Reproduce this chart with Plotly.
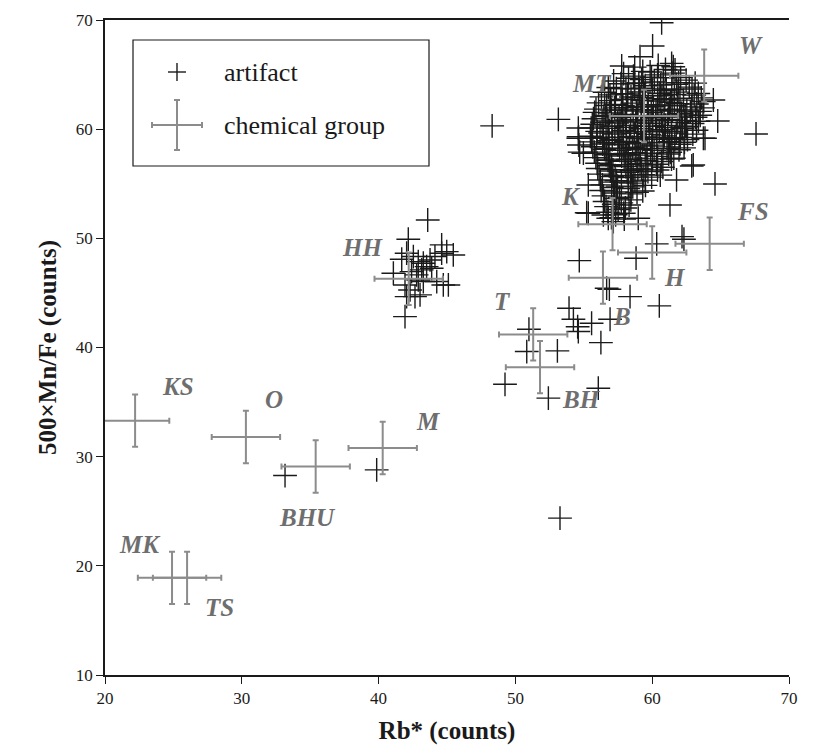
import plotly.graph_objects as go

# ---- chemical groups: centroid and 1-sigma spread ----
group_names = ["KS", "O", "BHU", "M", "MK", "TS", "HH", "T", "BH", "B", "H", "FS", "K", "MT", "W"]
group_rb = [22.2, 30.3, 35.4, 40.3, 24.9, 26.0, 42.2, 51.3, 51.8, 56.4, 60.0, 64.2, 57.1, 59.4, 63.8]
group_mnfe = [33.3, 31.8, 29.1, 30.8, 18.9, 18.9, 46.3, 41.2, 38.2, 46.4, 48.7, 49.5, 51.3, 61.2, 64.9]
group_rb_err = [2.5] * 15
group_mnfe_err = [2.4] * 15

# ---- individual artifacts ----
artifact_rb = [
    # isolated / low
    41.93, 50.99, 50.83, 53.07, 49.24, 52.41, 56.06, 53.26, 53.92, 54.24, 54.55, 54.60,
    55.57, 56.92, 56.25, 56.67, 56.87, 58.38, 60.52, 54.67, 58.82, 60.33, 62.18, 62.32,
    39.86, 33.16,
    # upper outliers
    60.69, 60.03, 59.11, 57.77, 53.14, 48.30, 54.60, 54.62, 54.64, 54.70, 64.79, 67.59,
    64.59, 62.89, 63.86, 64.47, 61.42, 61.54, 61.67,
    # HH cluster
    43.59, 42.17, 42.05, 41.69, 42.54, 42.90, 43.27, 43.76, 44.12, 44.61, 44.98, 45.46,
    44.61, 41.08, 42.41, 42.78, 43.15, 43.51, 43.88, 44.25, 44.73, 45.10, 41.93, 42.30,
    42.66, 43.03, 42.05, 42.90, 43.27,
    # main cluster edge
    55.21, 56.43, 56.79, 57.16, 58.98, 61.30, 61.78, 63.00, 63.74, 55.33, 55.33, 54.60, 54.97,
    # main cluster
    58.72, 59.31, 60.44, 60.97,
    57.91, 58.63, 59.85, 60.39, 61.52, 62.08,
    57.18, 58.27, 58.71, 59.23, 60.16, 60.81, 61.93, 62.48,
    56.79, 57.71, 58.08, 59.02, 59.49, 60.62, 61.03, 61.78, 62.71, 63.14,
    56.52, 57.38, 57.79, 58.71, 59.08, 60.02, 60.51, 61.43, 61.89, 62.91, 63.37,
    56.29, 56.91, 57.82, 58.18, 59.12, 59.43, 60.39, 60.71, 61.62, 62.03, 63.07, 63.59,
    56.08, 56.97, 57.31, 58.22, 58.54, 59.29, 59.71, 60.58, 60.92, 61.84, 62.29, 63.26, 63.77,
    55.89, 56.67, 57.02, 57.86, 58.13, 58.96, 59.22, 60.09, 60.41, 61.27, 61.62, 62.53, 62.89, 63.71,
    55.79, 56.58, 56.89, 57.77, 58.02, 58.84, 59.19, 59.93, 60.28, 61.18, 61.46, 62.41, 62.79, 63.49,
    55.71, 56.47, 56.76, 57.58, 57.84, 58.61, 58.93, 59.72, 60.03, 60.87, 61.14, 62.01, 62.36, 63.17, 63.51,
    55.62, 56.34, 56.63, 57.46, 57.71, 58.43, 58.79, 59.56, 59.84, 60.67, 60.96, 61.87, 62.11, 62.95, 63.38,
    55.54, 55.98, 56.81, 57.06, 57.89, 58.11, 58.92, 59.21, 60.03, 60.31, 61.12, 61.41, 62.21, 62.52, 63.24,
    55.48, 56.19, 56.44, 57.27, 57.56, 58.34, 58.69, 59.41, 59.78, 60.52, 60.89, 61.76, 62.06, 62.97,
    55.57, 55.94, 56.79, 57.08, 57.87, 58.12, 58.97, 59.29, 60.01, 60.34, 61.26, 61.44, 62.36, 62.58,
    55.66, 56.38, 56.64, 57.49, 57.73, 58.57, 58.88, 59.63, 59.97, 60.81, 61.17, 62.02, 62.33,
    55.77, 56.51, 56.79, 57.62, 57.88, 58.76, 59.02, 59.88, 60.14, 61.08, 61.32, 61.96,
    55.88, 56.63, 56.91, 57.77, 58.03, 58.88, 59.14, 60.01, 60.39, 61.21, 61.58,
    55.97, 56.77, 57.04, 57.95, 58.24, 59.11, 59.49, 60.31, 60.69, 61.41,
    56.02, 56.86, 57.13, 58.07, 58.39, 59.22, 59.61, 60.39, 60.78,
    56.12, 56.96, 57.29, 58.17, 58.49, 59.34, 59.69, 60.59,
    56.21, 57.07, 57.39, 58.26, 58.61, 59.49, 59.96,
    56.36, 57.18, 57.47, 58.41, 58.74, 59.51,
    56.27, 57.04, 57.36, 58.25, 58.58, 59.31,
    56.44, 57.24, 57.61, 58.46, 58.89,
    56.52, 57.37, 57.74, 58.44,
    56.63, 57.19, 58.04, 58.31,
    56.76, 57.51, 57.92,
    57.02, 57.33, 57.96,
    # dense core
    58.45, 59.65, 60.25, 58.05, 59.15, 60.75, 57.55, 59.55, 58.25, 61.35,
    57.25, 60.85, 59.95, 62.15, 61.65, 56.85, 58.95, 57.75, 62.45, 59.35,
]
artifact_mnfe = [
    # isolated / low
    42.83, 41.67, 39.63, 39.69, 36.63, 35.36, 36.27, 24.37, 43.60, 42.59, 41.90, 41.46,
    42.22, 42.59, 40.45, 45.43, 45.34, 44.66, 43.81, 47.96, 48.18, 49.49, 50.16, 49.92,
    28.79, 28.27,
    # upper outliers
    69.75, 67.62, 66.64, 65.79, 60.90, 60.30, 60.10, 59.30, 58.55, 57.90, 60.75, 59.56,
    54.98, 56.63, 59.17, 62.67, 66.03, 65.72, 65.42,
    # HH cluster
    51.68, 49.92, 48.64, 48.09, 48.33, 47.87, 47.72, 48.02, 48.33, 49.40, 48.78, 48.48,
    48.64, 46.80, 46.95, 46.65, 47.11, 47.41, 47.26, 46.04, 45.73, 45.73, 45.73, 45.27,
    44.66, 44.82, 44.66, 46.19, 46.04,
    # main cluster edge
    52.35, 52.14, 51.84, 51.53, 51.84, 53.06, 55.35, 56.72, 59.17, 54.89, 52.30, 59.17, 57.80,
    # main cluster
    65.68, 65.29, 65.83, 65.47,
    65.09, 64.86, 65.24, 64.97, 65.13, 64.72,
    64.41, 64.66, 64.19, 64.55, 64.32, 64.71, 64.26, 64.49,
    63.81, 64.16, 63.72, 64.24, 63.98, 64.05, 63.69, 64.11, 63.85, 64.22,
    63.38, 63.71, 63.24, 63.69, 63.41, 63.57, 63.29, 63.61, 63.39, 63.68, 63.27,
    62.96, 63.14, 62.72, 63.22, 62.91, 63.09, 62.78, 63.06, 63.18, 62.83, 63.12, 62.87,
    62.41, 62.61, 62.26, 62.74, 62.39, 62.62, 62.24, 62.57, 62.71, 62.33, 62.66, 62.31, 62.52,
    61.84, 62.17, 61.74, 62.18, 61.96, 62.06, 61.79, 62.07, 62.22, 61.83, 62.15, 61.76, 62.04, 61.95,
    61.54, 61.26, 61.48, 61.76, 61.35, 61.67, 61.24, 61.55, 61.72, 61.38, 61.66, 61.31, 61.58, 61.63,
    60.96, 61.15, 60.76, 61.07, 61.25, 60.85, 61.16, 60.81, 61.05, 61.21, 60.88, 61.12, 60.79, 61.09, 61.27,
    60.45, 60.64, 60.29, 60.57, 60.75, 60.34, 60.66, 60.26, 60.54, 60.77, 60.35, 60.60, 60.28, 60.52, 60.72,
    60.10, 59.80, 60.07, 60.25, 59.88, 60.16, 59.76, 60.05, 60.27, 59.84, 60.14, 59.79, 60.06, 60.22, 59.90,
    59.35, 59.65, 59.26, 59.56, 59.74, 59.33, 59.61, 59.28, 59.52, 59.77, 59.39, 59.64, 59.24, 59.55,
    58.84, 59.16, 58.75, 59.05, 59.24, 58.90, 59.12, 58.78, 59.07, 59.22, 58.86, 59.15, 58.80, 59.04,
    58.39, 58.64, 58.25, 58.57, 58.75, 58.35, 58.66, 58.24, 58.54, 58.76, 58.38, 58.62, 58.29,
    57.90, 58.15, 57.76, 58.07, 58.24, 57.85, 58.14, 57.79, 58.06, 58.21, 57.88, 58.11,
    57.39, 57.66, 57.26, 57.54, 57.77, 57.35, 57.62, 57.28, 57.51, 57.72, 57.34,
    56.88, 57.15, 56.75, 57.06, 57.22, 56.85, 57.11, 56.79, 57.04, 57.26,
    56.40, 56.65, 56.28, 56.57, 56.74, 56.35, 56.64, 56.26, 56.51,
    55.88, 56.16, 55.75, 56.05, 56.22, 55.84, 56.11, 55.79,
    55.35, 55.65, 55.28, 55.57, 55.72, 55.33, 55.61,
    54.90, 55.15, 54.78, 55.06, 55.24, 54.85,
    54.38, 54.66, 54.26, 54.55, 54.71, 54.34,
    53.89, 54.14, 53.76, 54.07, 54.21,
    53.38, 53.65, 53.25, 53.52,
    52.90, 53.11, 52.78, 53.05,
    52.39, 52.64, 52.30,
    51.89, 52.16, 51.76,
    # dense core
    62.95, 62.05, 61.10, 60.85, 60.05, 59.95, 59.25, 58.45, 57.65, 62.45,
    61.95, 63.55, 64.75, 61.45, 59.05, 58.95, 56.35, 55.15, 60.25, 63.75,
]

x_ticks = [20, 30, 40, 50, 60, 70]
y_ticks = [10, 20, 30, 40, 50, 60, 70]

# pixel offsets of each group label from its centroid
label_shift = {
    "KS": (43, 34), "O": (28, 38), "BHU": (-8, -51), "M": (45, 26),
    "MK": (-32, 33), "TS": (32, -30), "HH": (-46, 31), "T": (-31, 33),
    "BH": (41, -32), "B": (19, -39), "H": (23, -25), "FS": (43, 32),
    "K": (-42, 28), "MT": (-52, 33), "W": (47, 30),
}

SERIF = "Liberation Serif, Times New Roman, serif"
BAR_GREY = "#8c8c8c"
LABEL_GREY = "#6e6e6e"
INK = "#1a1a1a"

fig = go.Figure()

fig.add_trace(go.Scatter(
    x=artifact_rb, y=artifact_mnfe, mode="markers", name="artifact",
    marker=dict(symbol="cross-thin", size=17, line=dict(color=INK, width=1.4)),
    showlegend=False, hoverinfo="skip",
))

fig.add_trace(go.Scatter(
    x=group_rb, y=group_mnfe, mode="markers", name="chemical group",
    marker=dict(size=2, color="rgba(0,0,0,0)"),
    error_x=dict(type="data", array=group_rb_err, color=BAR_GREY, thickness=2, width=3),
    error_y=dict(type="data", array=group_mnfe_err, color=BAR_GREY, thickness=2, width=3),
    showlegend=False, hoverinfo="skip",
))

for name, gx, gy in zip(group_names, group_rb, group_mnfe):
    dx, dy = label_shift[name]
    fig.add_annotation(
        x=gx, y=gy, xref="x", yref="y", text=f"<b><i>{name}</i></b>",
        showarrow=False, xshift=dx, yshift=dy,
        font=dict(family=SERIF, size=25, color=LABEL_GREY),
    )

# ---- legend box drawn in paper coordinates ----
W_PLOT, H_PLOT = 684.0, 655.0
def px(dx):
    return dx / W_PLOT
def py(dy):
    return dy / H_PLOT

shapes = [
    dict(type="rect", xref="paper", yref="paper", x0=px(28), x1=px(324), y0=py(509), y1=py(635),
         line=dict(color=INK, width=1.2), fillcolor="white", layer="below"),
]
# artifact glyph
cx, cy = px(72), py(603)
shapes += [
    dict(type="line", xref="paper", yref="paper", x0=cx - px(9), x1=cx + px(9), y0=cy, y1=cy,
         line=dict(color=INK, width=1.4)),
    dict(type="line", xref="paper", yref="paper", x0=cx, x1=cx, y0=cy - py(9), y1=cy + py(9),
         line=dict(color=INK, width=1.4)),
]
# chemical group glyph
gx0, gy0 = px(72), py(550)
shapes += [
    dict(type="line", xref="paper", yref="paper", x0=gx0 - px(25), x1=gx0 + px(25), y0=gy0, y1=gy0,
         line=dict(color=BAR_GREY, width=2)),
    dict(type="line", xref="paper", yref="paper", x0=gx0, x1=gx0, y0=gy0 - py(25), y1=gy0 + py(25),
         line=dict(color=BAR_GREY, width=2)),
]
for s in (-1, 1):
    shapes.append(dict(type="line", xref="paper", yref="paper",
                       x0=gx0 + s * px(25), x1=gx0 + s * px(25), y0=gy0 - py(3), y1=gy0 + py(3),
                       line=dict(color=BAR_GREY, width=2)))
    shapes.append(dict(type="line", xref="paper", yref="paper",
                       x0=gx0 - px(3), x1=gx0 + px(3), y0=gy0 + s * py(25), y1=gy0 + s * py(25),
                       line=dict(color=BAR_GREY, width=2)))

fig.add_annotation(x=px(117), y=cy, xref="paper", yref="paper", text="artifact",
                   showarrow=False, xanchor="left", yanchor="middle",
                   font=dict(family=SERIF, size=26, color=INK))
fig.add_annotation(x=px(117), y=gy0, xref="paper", yref="paper", text="chemical group",
                   showarrow=False, xanchor="left", yanchor="middle",
                   font=dict(family=SERIF, size=26, color=INK))

fig.update_layout(
    width=832, height=753,
    margin=dict(l=105, r=43, t=20, b=78, autoexpand=False),
    paper_bgcolor="white", plot_bgcolor="white",
    shapes=shapes,
    font=dict(family=SERIF, color=INK),
    xaxis=dict(
        range=[20, 70], tickvals=x_ticks, ticktext=[str(v) for v in x_ticks],
        ticks="outside", ticklen=7, tickwidth=1.2, tickcolor=INK,
        showline=True, linecolor=INK, linewidth=1.5, mirror=True,
        showgrid=False, zeroline=False,
        tickfont=dict(family=SERIF, size=17, color=INK),
        title=dict(text="<b>Rb* (counts)</b>", font=dict(family=SERIF, size=25, color=INK), standoff=14),
    ),
    yaxis=dict(
        range=[10, 70], tickvals=y_ticks, ticktext=[str(v) for v in y_ticks],
        ticks="outside", ticklen=7, tickwidth=1.2, tickcolor=INK,
        showline=True, linecolor=INK, linewidth=1.5,
        showgrid=False, zeroline=False,
        tickfont=dict(family=SERIF, size=17, color=INK),
        title=dict(text="<b>500×Mn/Fe (counts)</b>", font=dict(family=SERIF, size=25, color=INK), standoff=12),
    ),
)

fig.write_html("out.html")
